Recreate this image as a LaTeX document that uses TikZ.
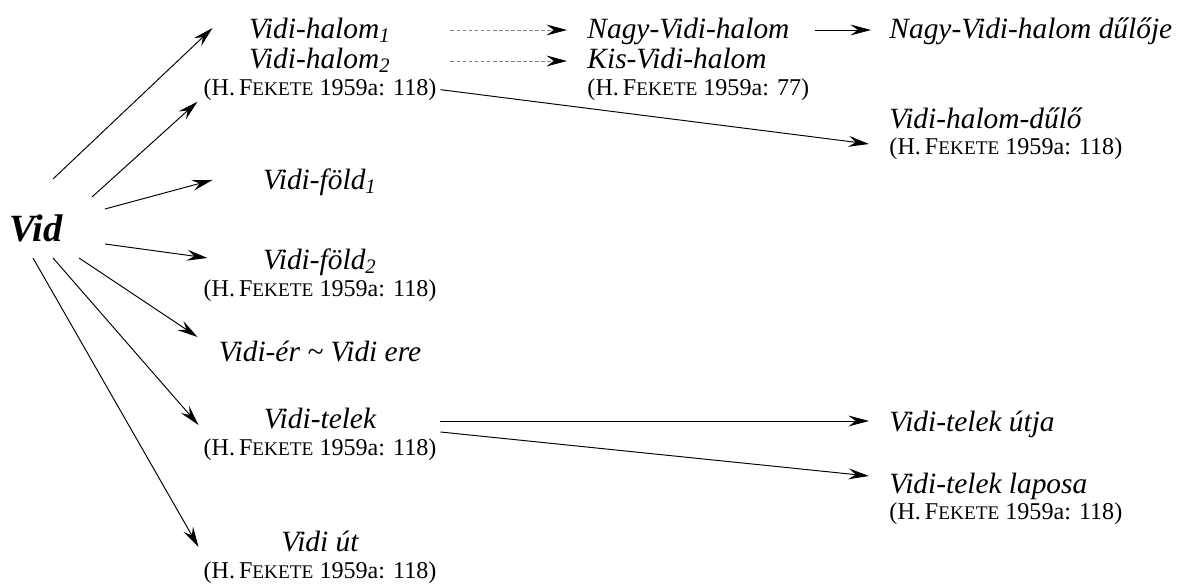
\documentclass[tikz,border=0pt]{standalone}
\usepackage{fontspec}
\setmainfont{Liberation Serif}
\usetikzlibrary{positioning}
\usetikzlibrary{arrows.meta}
\newcommand{\fekete}{F{\fontsize{8pt}{10pt}\selectfont EKETE}}
\newcommand{\feketeref}[1]{(H.\,\fekete{} 1959a: #1)}
\tikzset{
  placename/.style={inner sep=0pt,text height=9pt,text depth=3pt,
                    font=\fontsize{12.2pt}{14pt}\selectfont\itshape},
  leftname/.style={placename,minimum width=99.6pt},
  source/.style={inner sep=0pt,
                 font=\fontsize{16pt}{19pt}\selectfont\bfseries\itshape},
  citation/.style={inner sep=0pt,text height=7.5pt,text depth=2.5pt,
                   font=\fontsize{10pt}{12pt}\selectfont},
  leftcitation/.style={citation,minimum width=99.6pt},
  namearrow/.style={>={Stealth[length=8.5pt,width=4.5pt,inset=3pt]},->},
  guessarrow/.style={>={Stealth[length=8.5pt,width=4.5pt,inset=3pt,color=black]},->,
                     draw=gray,dash pattern=on 1.6pt off 0.9pt},
}
\begin{document}
\begin{tikzpicture}[
    x=0.415pt,y=-0.415pt,
    node distance=0.5pt,
    ]
  \useasboundingbox (0,0) rectangle (1178,588);

  \node[source] (vid) at (36,228) {Vid};

  % names formed straight from Vid
  \node[leftname] (halomOne) at (320,31) {Vidi-halom\textsubscript{1}};
  \node[leftname] (halomTwo) at (320,61) {Vidi-halom\textsubscript{2}};
  \node[leftcitation] (halomTwoRef) [below=of halomTwo] {\feketeref{118}};
  \node[leftname] (foldOne) at (320,182) {Vidi-föld\textsubscript{1}};
  \node[leftname] (foldTwo) at (320,262) {Vidi-föld\textsubscript{2}};
  \node[leftcitation] (foldTwoRef) [below=of foldTwo] {\feketeref{118}};
  \node[leftname] (er) at (320,354) {Vidi-ér \char`~\ Vidi ere};
  \node[leftname] (telek) at (320,421) {Vidi-telek};
  \node[leftcitation] (telekRef) [below=of telek] {\feketeref{118}};
  \node[leftname] (ut) at (320,544) {Vidi út};
  \node[leftcitation] (utRef) [below=of ut] {\feketeref{118}};

  \draw[namearrow] ([shift={(17,-49)}]vid.center) -- ([shift={(13,-3)}]halomOne.west);
  \draw[namearrow] ([shift={(56,-31)}]vid.center) -- ([shift={(-2,12)}]halomTwoRef.west);
  \draw[namearrow] ([shift={(69,-19)}]vid.center) -- ([shift={(13,-2)}]foldOne.west);
  \draw[namearrow] ([shift={(69,16)}]vid.center) -- ([shift={(8,-4)}]foldTwo.west);
  \draw[namearrow] ([shift={(43,30)}]vid.center) -- ([shift={(-2,-17)}]er.west);
  \draw[namearrow] ([shift={(17,30)}]vid.center) -- ([shift={(-1,4)}]telek.west);
  \draw[namearrow] ([shift={(-3,30)}]vid.center) -- ([shift={(-1,3)}]ut.west);

  % second generation
  \node[placename,anchor=west] (nagy) at (587,31) {Nagy-Vidi-halom};
  \node[placename,anchor=west] (kis) at (587,61) {Kis-Vidi-halom};
  \node[citation,anchor=west] (kisRef) at (587,89) {\feketeref{77}};
  \node[placename,anchor=west] (nagyDulo) at (889,31) {Nagy-Vidi-halom dűlője};
  \node[placename,anchor=west] (halomDulo) at (889,121) {Vidi-halom-dűlő};
  \node[citation,anchor=west] (halomDuloRef) at (889,148) {\feketeref{118}};
  \node[placename,anchor=west] (telekUtja) at (889,424) {Vidi-telek útja};
  \node[placename,anchor=west] (telekLaposa) at (889,486) {Vidi-telek laposa};
  \node[citation,anchor=west] (telekLaposaRef) at (889,513) {\feketeref{118}};

  \draw[guessarrow] ([shift={(10,-1)}]halomOne.east) -- ([shift={(-20,-1)}]nagy.west);
  \draw[guessarrow] ([shift={(10,0)}]halomTwo.east) -- ([shift={(-20,0)}]kis.west);
  \draw[namearrow] ([shift={(25,-1)}]nagy.east) -- ([shift={(-18,-1)}]nagyDulo.west);
  \draw[namearrow] (halomTwoRef.east) -- ([shift={(-20,-4)}]halomDuloRef.west);
  \draw[namearrow] (telek.east) -- ([shift={(-20,-3)}]telekUtja.west);
  \draw[namearrow] ([shift={(0,11)}]telek.east) -- ([shift={(-20,-10)}]telekLaposa.west);
\end{tikzpicture}
\end{document}
